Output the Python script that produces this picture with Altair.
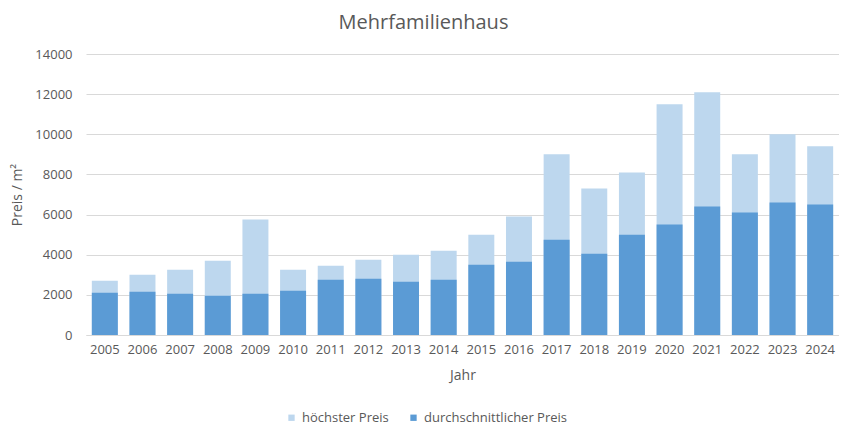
import altair as alt
import pandas as pd

years = [str(y) for y in range(2005, 2025)]
hoechster = [2700, 3000, 3250, 3700, 5750, 3250, 3450, 3750, 4000, 4200,
             5000, 5900, 9000, 7300, 8100, 11500, 12100, 9000, 10000, 9400]
durchschnitt = [2100, 2150, 2050, 1950, 2050, 2200, 2750, 2800, 2650, 2750,
                3500, 3650, 4750, 4050, 5000, 5500, 6400, 6100, 6600, 6500]
series = ["höchster Preis", "durchschnittlicher Preis"]
colors = ["#BDD7EE", "#5B9BD5"]

rows = []
for y, v in zip(years, hoechster):
    rows.append({"Jahr": y, "Serie": series[0], "Preis": v})
for y, v in zip(years, durchschnitt):
    rows.append({"Jahr": y, "Serie": series[1], "Preis": v})
df = pd.DataFrame(rows)

FONT = "Open Sans"
GREY = "#595959"

x = alt.X("Jahr:N", title="Jahr",
          scale=alt.Scale(paddingInner=0.31, paddingOuter=0.155),
          axis=alt.Axis(labelAngle=0, ticks=False, domainColor="#D9D9D9",
                        labelPadding=8, titlePadding=12))
y = alt.Y("Preis:Q", title="Preis / m²", stack=None,
          scale=alt.Scale(domain=[0, 14000]),
          axis=alt.Axis(values=list(range(0, 14001, 2000)), format="d",
                        ticks=False, domain=False, gridColor="#D9D9D9",
                        labelPadding=14, titlePadding=10))
color = alt.Color("Serie:N", title=None,
                  scale=alt.Scale(domain=series, range=colors),
                  legend=alt.Legend(orient="none", direction="horizontal",
                                    legendX=199, legendY=357,
                                    symbolType="square", symbolSize=40,
                                    symbolStrokeWidth=0, columnPadding=18,
                                    labelFontSize=13, labelColor=GREY,
                                    labelFont=FONT))

base = alt.Chart(df).mark_bar().encode(x=x, y=y, color=color)
light = base.transform_filter(alt.datum.Serie == series[0])
dark = base.transform_filter(alt.datum.Serie == series[1])

chart = alt.layer(light, dark).properties(
    width=753, height=281,
    title=alt.TitleParams("Mehrfamilienhaus", fontSize=20, font=FONT,
                          color=GREY, fontWeight="normal", dx=-39, offset=15),
    autosize=alt.AutoSizeParams(type="none"),
    padding={"left": 78, "top": 46, "right": 0, "bottom": 91},
).configure_axis(
    labelFont=FONT, labelFontSize=13, labelColor=GREY,
    titleFont=FONT, titleFontSize=14, titleColor=GREY, titleFontWeight="normal",
).configure_view(stroke=None)

chart.save("out.html", embed_options={"renderer": "svg", "actions": False})
